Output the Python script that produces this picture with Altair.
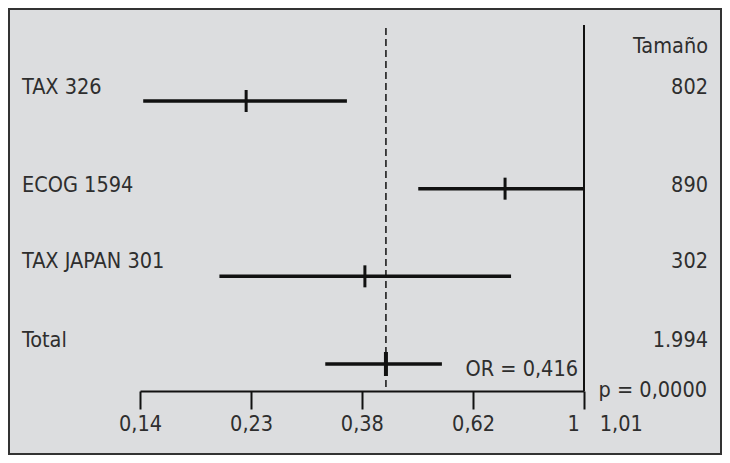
import altair as alt
import pandas as pd

# ---- data ----
studies = ["TAX 326", "ECOG 1594", "TAX JAPAN 301", "Total"]
or_values = [0.224, 0.705, 0.379, 0.416]
ci_low = [0.142, 0.480, 0.199, 0.318]
ci_high = [0.350, 1.0, 0.724, 0.533]
sizes = ["802", "890", "302", "1.994"]
tick_values = [0.14, 0.229, 0.374, 0.612, 1.0]
tick_labels = ["0,14", "0,23", "0,38", "0,62", "1\u00a0\u00a0\u2009\u20091,01"]
pooled_or = 0.416
size_header = "Tamaño"
or_text = "OR = 0,416"
p_text = "p = 0,0000"

# ---- styling ----
FONT = "DejaVu Sans Condensed, sans-serif"
FS = 21.5
INK = "#111111"
TXT = "#2e2e2e"
BG = "#dcdddf"
label_shift = {"TAX 326": -7, "ECOG 1594": 3, "TAX JAPAN 301": -8, "Total": -17}

df = pd.DataFrame({
    "study": studies,
    "or": or_values,
    "low": ci_low,
    "high": ci_high,
    "size": sizes,
})

shift_expr = " : ".join(
    f"datum.study == '{k}' ? {v}" for k, v in label_shift.items()
) + " : 0"

label_expr = " : ".join(
    f"abs(datum.value - {v}) < 1e-6 ? '{l}'" for v, l in zip(tick_values, tick_labels)
) + " : ''"

W, H = 444, 383
PAD = {"left": 132, "right": 138, "top": 0, "bottom": 64}
RIGHT_X = 568

yscale = alt.Scale(type="point", domain=studies, range=[93, 356], padding=0)
xscale = alt.Scale(type="log", domain=[0.14, 1.0], nice=False)

base = alt.Chart(df)

ci = base.mark_rule(strokeWidth=3.5, color=INK).encode(
    x=alt.X(
        "low:Q",
        scale=xscale,
        title=None,
        axis=alt.Axis(
            values=tick_values,
            labelExpr=label_expr,
            labelAlign={"condition": {"test": "datum.value > 0.99", "value": "left"}, "value": "center"},
            labelOffset={"condition": {"test": "datum.value > 0.99", "value": -17}, "value": 0},
            labelFlush=False,
            labelOverlap=False,
            grid=False,
        ),
    ),
    x2="high:Q",
    y=alt.Y("study:N", scale=yscale, axis=None),
)

pts = base.transform_filter("datum.study != 'Total'").mark_tick(
    thickness=3, size=22, color=INK, opacity=1
).encode(
    x=alt.X("or:Q", title=None),
    y=alt.Y("study:N", scale=yscale, axis=None),
)

pooled_pt = base.transform_filter("datum.study == 'Total'").mark_tick(
    thickness=4, size=24, color=INK, opacity=1
).encode(
    x=alt.X("or:Q", title=None),
    y=alt.Y("study:N", scale=yscale, axis=None),
)

labels = base.transform_calculate(shift=shift_expr).mark_text(
    align="left", baseline="alphabetic", font=FONT, fontSize=FS, color=TXT,
    dy=alt.expr("datum.shift"),
).encode(
    x=alt.value(-118),
    y=alt.Y("study:N", scale=yscale, axis=None),
    text="study:N",
)

size_txt = base.transform_calculate(shift=shift_expr).mark_text(
    align="right", baseline="alphabetic", font=FONT, fontSize=FS, color=TXT,
    dy=alt.expr("datum.shift"),
).encode(
    x=alt.value(RIGHT_X),
    y=alt.Y("study:N", scale=yscale, axis=None),
    text="size:N",
)

header = alt.Chart(pd.DataFrame({"t": [size_header]})).mark_text(
    align="right", baseline="alphabetic", font=FONT, fontSize=FS, color=TXT
).encode(x=alt.value(RIGHT_X), y=alt.value(45), text="t:N")

null_line = alt.Chart(pd.DataFrame({"v": [1.0]})).mark_rule(
    strokeWidth=2, color=INK
).encode(x=alt.X("v:Q", title=None), y=alt.value(17), y2=alt.value(H))

pooled_line = alt.Chart(pd.DataFrame({"v": [pooled_or]})).mark_rule(
    strokeWidth=1.5, color=INK, strokeDash=[7, 4]
).encode(x=alt.X("v:Q", title=None), y=alt.value(20), y2=alt.value(H))

or_lab = alt.Chart(pd.DataFrame({"v": [1.0], "t": [or_text]})).mark_text(
    align="right", baseline="alphabetic", font=FONT, fontSize=FS, color=TXT, dx=-6
).encode(x=alt.X("v:Q", title=None), y=alt.value(368), text="t:N")

p_lab = alt.Chart(pd.DataFrame({"t": [p_text]})).mark_text(
    align="right", baseline="alphabetic", font=FONT, fontSize=FS, color=TXT
).encode(x=alt.value(RIGHT_X - 1), y=alt.value(389), text="t:N")

frame = alt.Chart(pd.DataFrame({"a": [0]})).mark_rect(
    filled=False, stroke="#333333", strokeWidth=2
).encode(
    x=alt.value(-131), x2=alt.value(W + 137), y=alt.value(1), y2=alt.value(H + 63)
)

chart = alt.layer(
    frame, pooled_line, null_line, ci, pts, pooled_pt, labels, size_txt, header, or_lab, p_lab
).properties(
    width=W, height=H, padding=PAD, autosize=alt.AutoSizeParams(type="none"),
    background=BG,
).configure_view(stroke=None).configure_axis(
    labelFont=FONT, labelFontSize=FS, labelColor=TXT, labelPadding=4,
    tickColor=INK, tickWidth=2, tickSize=18,
    domainColor=INK, domainWidth=2,
)

chart.save("out.html", embed_options={"renderer": "svg", "actions": False})
